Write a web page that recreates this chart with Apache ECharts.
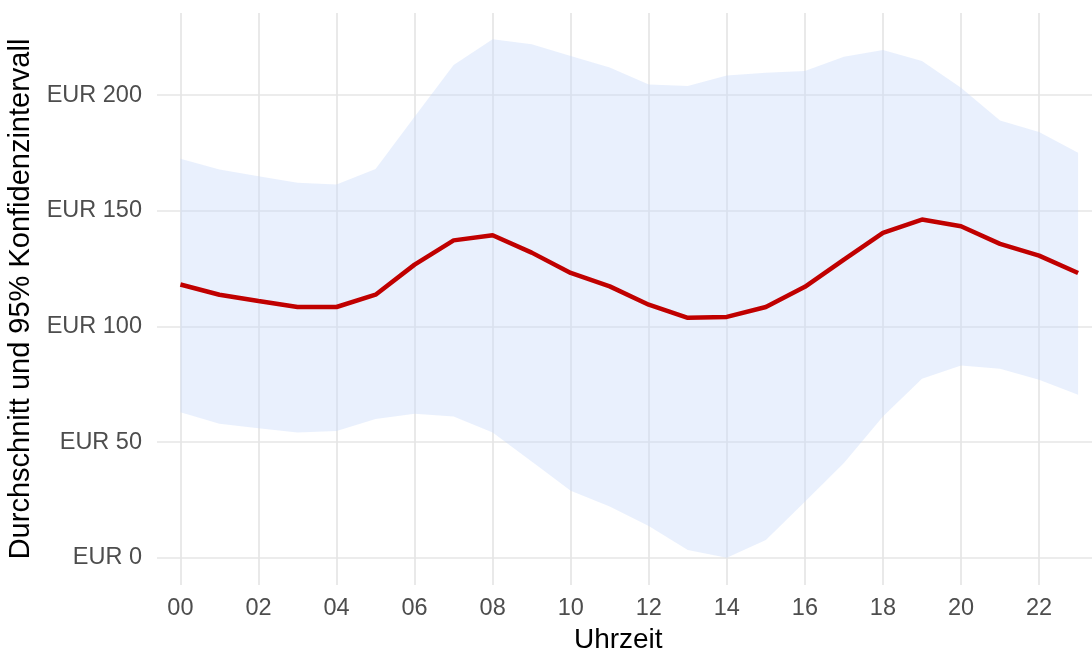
<!DOCTYPE html>
<html>
<head>
<meta charset="utf-8">
<script src="https://cdn.jsdelivr.net/npm/echarts@6/dist/echarts.min.js"></script>
<style>html,body{margin:0;padding:0;background:#fff}#c{width:1092px;height:651px}</style>
</head>
<body>
<div id="c"></div>
<script>
// Hours of the day
const hours = [0,1,2,3,4,5,6,7,8,9,10,11,12,13,14,15,16,17,18,19,20,21,22,23];
// Mean (EUR)
const meanValues = [118.1,113.7,111.0,108.4,108.4,113.7,126.7,137.2,139.4,131.9,123.1,117.3,109.4,103.7,104.1,108.4,117.1,128.9,140.4,146.2,143.3,135.7,130.6,123.1];
// Lower bound of 95% CI
const lowerValues = [62.9,57.9,56.0,54.1,54.8,60.0,62.2,61.0,54.1,41.6,28.9,22.1,13.7,3.3,0.0,7.7,24.2,40.9,61.0,77.4,83.1,81.7,76.9,70.4];
// Upper bound of 95% CI
const upperValues = [172.5,167.8,164.9,162.1,161.3,168.1,190.6,213.0,224.1,222.0,216.9,211.9,204.6,203.9,208.5,209.7,210.4,216.6,219.5,214.7,203.2,189.0,184.0,175.1];
// Tick values / labels
const xTickValues = [0,2,4,6,8,10,12,14,16,18,20,22];
const xTickLabels = ['00','02','04','06','08','10','12','14','16','18','20','22'];
const yTickValues = [0,50,100,150,200];
const yTickLabels = ['EUR 0','EUR 50','EUR 100','EUR 150','EUR 200'];

const chart = echarts.init(document.getElementById('c'), null, {renderer:'canvas'});
const bandData = hours.map((h,i)=>[h, lowerValues[i], upperValues[i]]);
const meanData = hours.map((h,i)=>[h, meanValues[i]]);
const font = 'Liberation Sans, Arial, sans-serif';

function renderBand(params, api){
  if (params.dataIndex !== 0) return null;
  const top = [], bottom = [];
  for (let i = 0; i < hours.length; i++){
    top.push(api.coord([hours[i], upperValues[i]]));
    bottom.push(api.coord([hours[i], lowerValues[i]]));
  }
  const pts = top.concat(bottom.reverse());
  return {type:'polygon', shape:{points:pts}, style:{fill:'rgba(200,218,250,0.4)', stroke:null}, silent:true};
}

chart.setOption({
  animation:false,
  backgroundColor:'#ffffff',
  grid:{left:157, right:-9.5, top:13, bottom:66, outerBoundsMode:'none', containLabel:false},
  xAxis:{
    type:'value', min:-0.6, max:23.6,
    name:'Uhrzeit', nameLocation:'middle', nameGap:41,
    nameTextStyle:{color:'#000', fontSize:28, fontFamily:font, padding:[0,22,0,0]},
    axisLine:{show:false},
    axisTick:{show:false, customValues:xTickValues},
    axisLabel:{customValues:xTickValues, color:'#4D4D4D', fontSize:23.5, fontFamily:font, margin:12,
      formatter:(v)=>xTickLabels[xTickValues.indexOf(v)]},
    splitLine:{show:true, lineStyle:{color:'#E6E6E6', width:1.7}}
  },
  yAxis:{
    type:'value', min:-11.8, max:235.5,
    name:'Durchschnitt und 95% Konfidenzintervall', nameLocation:'middle', nameGap:120,
    nameTextStyle:{color:'#000', fontSize:29, fontFamily:font},
    axisLine:{show:false},
    axisTick:{show:false, customValues:yTickValues},
    axisLabel:{customValues:yTickValues, color:'#4D4D4D', fontSize:23.5, fontFamily:font, margin:15,
      formatter:(v)=>yTickLabels[yTickValues.indexOf(v)]},
    splitLine:{show:true, lineStyle:{color:'#E6E6E6', width:1.7}}
  },
  series:[
    {type:'custom', data:bandData, renderItem:renderBand, encode:{x:0, y:[1,2]}, silent:true, z:3, clip:true},
    {type:'line', data:meanData, symbol:'none', lineStyle:{color:'#C00000', width:4.5}, z:4}
  ]
});
</script>
</body>
</html>
